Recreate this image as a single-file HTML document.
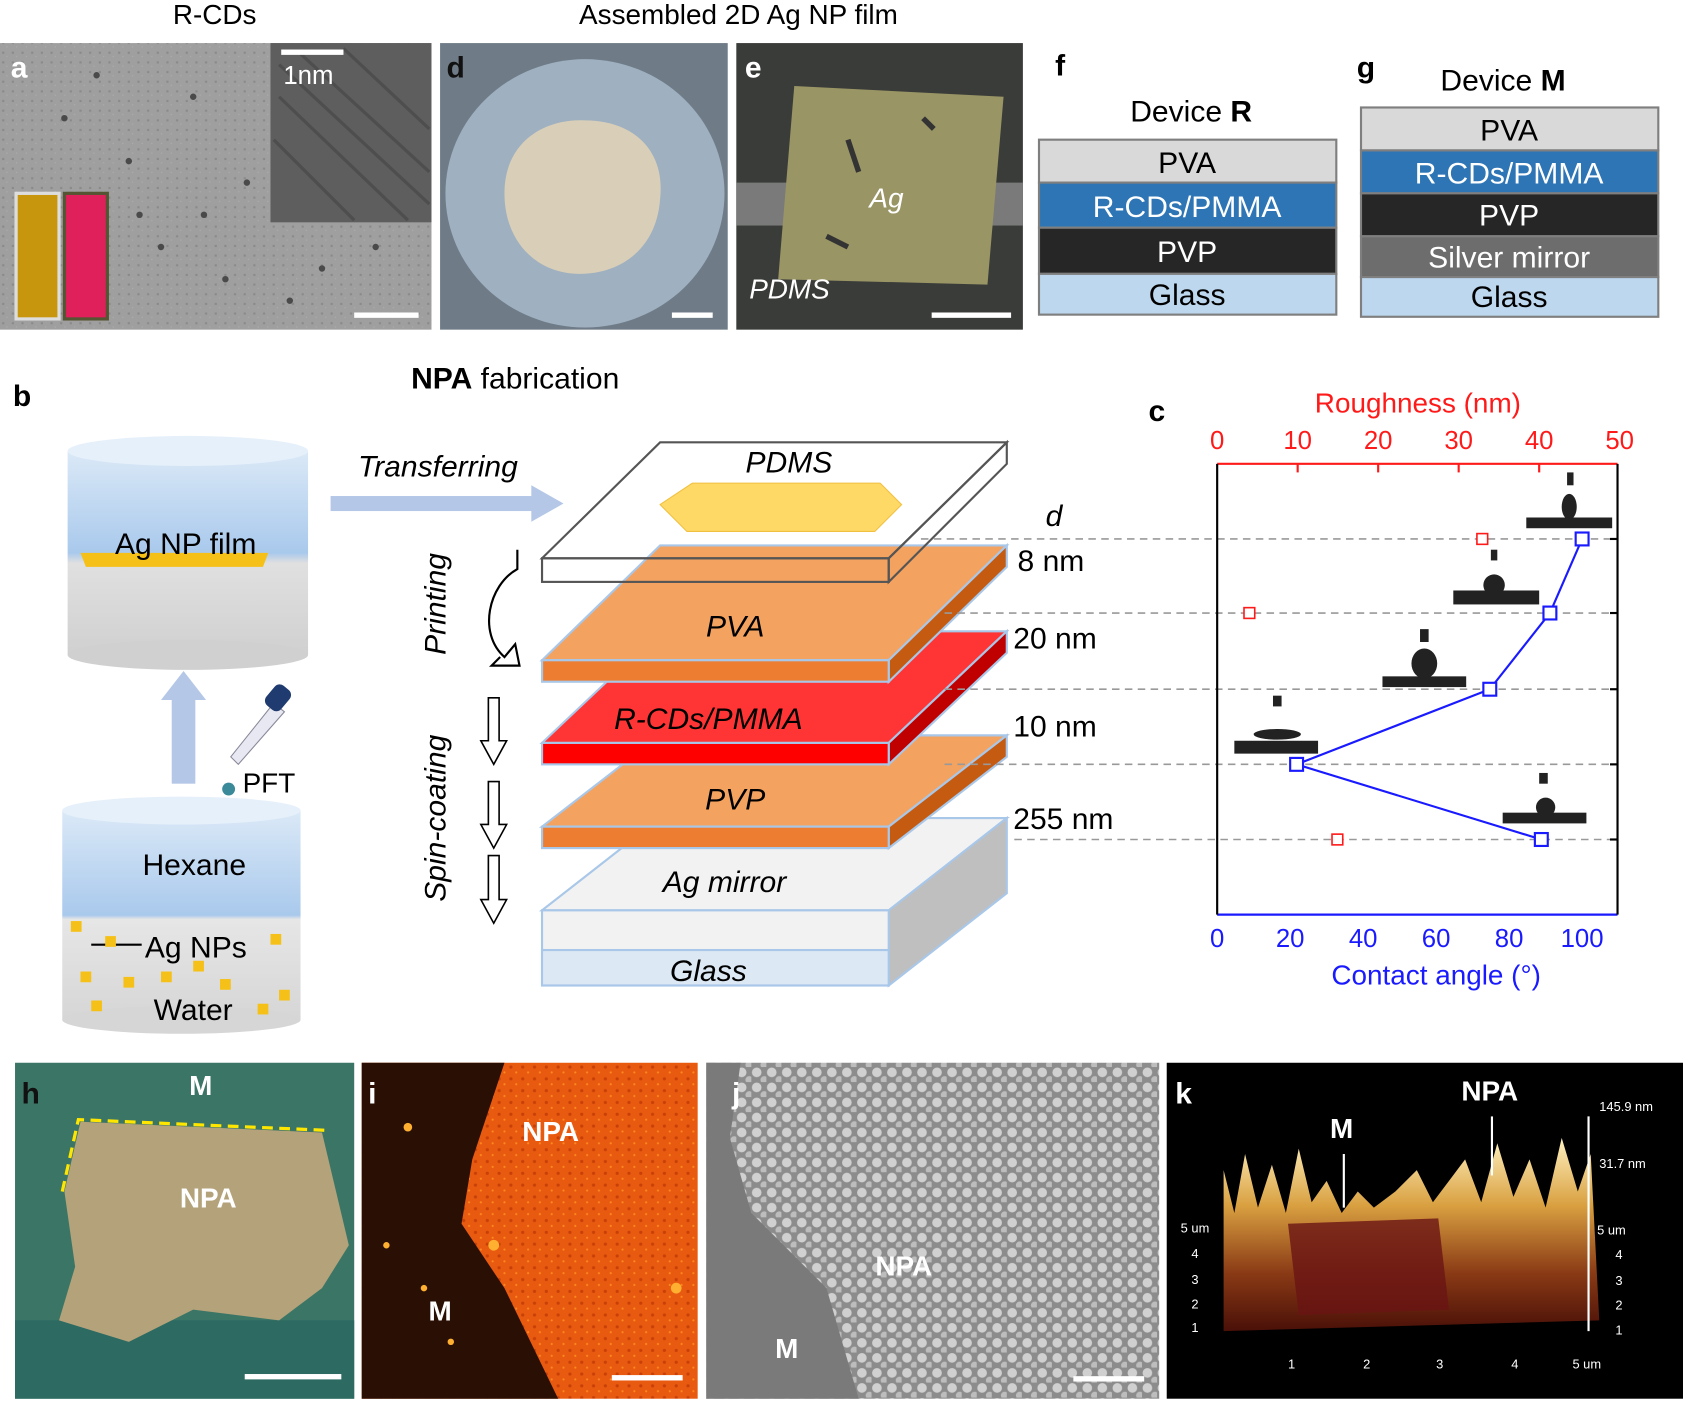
<!DOCTYPE html>
<html><head><meta charset="utf-8"><style>
html,body{margin:0;padding:0;background:#fff}
svg{display:block}
text{font-family:"Liberation Sans",Arial,sans-serif}
</style></head><body>
<svg width="1683" height="1401" viewBox="0 0 1568 1305" xmlns="http://www.w3.org/2000/svg">
<defs>
<linearGradient id="cyl" x1="0" y1="0" x2="0" y2="1"><stop offset="0" stop-color="#dbe9f7"/><stop offset="0.5" stop-color="#a9c9ec"/><stop offset="0.55" stop-color="#e0e0e0"/><stop offset="1" stop-color="#d0d0d0"/></linearGradient>
<linearGradient id="cyl2" x1="0" y1="0" x2="0" y2="1"><stop offset="0" stop-color="#dbe9f7"/><stop offset="0.5" stop-color="#a9c9ec"/><stop offset="0.52" stop-color="#e6e6e6"/><stop offset="1" stop-color="#d6d6d6"/></linearGradient>
<linearGradient id="afm" x1="0" y1="0" x2="0" y2="1"><stop offset="0" stop-color="#fff2c0"/><stop offset="0.35" stop-color="#d9a040"/><stop offset="0.7" stop-color="#8a3a15"/><stop offset="1" stop-color="#4a1008"/></linearGradient>
<pattern id="np" width="14" height="14" patternUnits="userSpaceOnUse"><rect width="14" height="14" fill="#8c8c8c"/><circle cx="5" cy="5" r="4.5" fill="#d0d0d0"/><circle cx="12" cy="12" r="3.5" fill="#bdbdbd"/></pattern>
<pattern id="grain" width="9" height="9" patternUnits="userSpaceOnUse"><rect width="9" height="9" fill="#9f9f9f"/><rect x="2" y="3" width="2" height="2" fill="#8a8a8a"/><rect x="6" y="7" width="1" height="1" fill="#b0b0b0"/></pattern>
<pattern id="og" width="11" height="11" patternUnits="userSpaceOnUse"><rect width="11" height="11" fill="#e85a10"/><circle cx="3" cy="4" r="1.5" fill="#c84008"/><circle cx="8" cy="9" r="1" fill="#ff8a20"/></pattern>
</defs>
<text x="200" y="22" font-size="26" text-anchor="middle">R-CDs</text>
<text x="688" y="22" font-size="26" text-anchor="middle">Assembled 2D Ag NP film</text>

<!-- a -->
<rect x="0" y="40" width="402" height="267" fill="url(#grain)"/>
<rect x="252" y="40" width="150" height="167" fill="#5e5e5e"/>
<g stroke="#444" stroke-width="3" opacity="0.6"><line x1="260" y1="60" x2="400" y2="190"/><line x1="260" y1="90" x2="380" y2="205"/><line x1="280" y1="50" x2="400" y2="160"/><line x1="255" y1="130" x2="330" y2="205"/><line x1="320" y1="45" x2="400" y2="120"/></g>
<g fill="#4a4a4a"><circle cx="60" cy="110" r="3"/><circle cx="120" cy="150" r="3"/><circle cx="180" cy="90" r="3"/><circle cx="230" cy="170" r="3"/><circle cx="150" cy="230" r="3"/><circle cx="210" cy="260" r="3"/><circle cx="300" cy="250" r="3"/><circle cx="350" cy="230" r="3"/><circle cx="90" cy="70" r="3"/><circle cx="130" cy="200" r="3"/><circle cx="270" cy="280" r="3"/><circle cx="190" cy="200" r="3"/></g>
<rect x="262" y="46" width="58" height="5" fill="#fff"/>
<text x="264" y="78" font-size="24" fill="#fff">1nm</text>
<rect x="15" y="180" width="40" height="117" fill="#c8960c" stroke="#ddd" stroke-width="3"/>
<rect x="60" y="180" width="40" height="117" fill="#e0205a" stroke="#553" stroke-width="3"/>
<rect x="330" y="291" width="60" height="5" fill="#fff"/>
<text x="10" y="72" font-size="28" font-weight="bold" fill="#fff">a</text>

<!-- d -->
<rect x="410" y="40" width="268" height="267" fill="#6f7b87"/>
<ellipse cx="545" cy="180" rx="130" ry="125" fill="#9fb0c0"/>
<path d="M470,180 C470,130 510,110 545,112 C590,112 620,140 615,185 C612,230 580,255 540,255 C500,255 470,225 470,180Z" fill="#d9cfb8"/>
<rect x="626" y="291" width="38" height="5" fill="#fff"/>
<text x="416" y="72" font-size="28" font-weight="bold" fill="#111">d</text>

<!-- e -->
<rect x="686" y="40" width="267" height="267" fill="#3a3c39"/>
<rect x="686" y="170" width="267" height="40" fill="#7a7a7a"/>
<polygon points="740,80 935,90 920,265 725,260" fill="#9a9565"/>
<path d="M790,130 L800,160 M770,220 L790,230 M860,110 L870,120" stroke="#333" stroke-width="5"/>
<text x="810" y="193" font-size="26" font-style="italic" fill="#fff">Ag</text>
<text x="698" y="278" font-size="26" font-style="italic" fill="#fff">PDMS</text>
<rect x="868" y="291" width="74" height="5" fill="#fff"/>
<text x="694" y="72" font-size="28" font-weight="bold" fill="#fff">e</text>

<!-- f -->
<text x="983" y="70" font-size="28" font-weight="bold">f</text>
<text x="1053" y="113" font-size="28">Device <tspan font-weight="bold">R</tspan></text>
<g stroke="#7f7f7f" stroke-width="2">
<rect x="968" y="130" width="277" height="40" fill="#d9d9d9"/>
<rect x="968" y="170" width="277" height="42" fill="#2e75b6"/>
<rect x="968" y="212" width="277" height="43" fill="#262626"/>
<rect x="968" y="255" width="277" height="38" fill="#bdd7ee"/></g>
<g font-size="28" text-anchor="middle"><text x="1106" y="161">PVA</text><text x="1106" y="202" fill="#fff">R-CDs/PMMA</text><text x="1106" y="244" fill="#fff">PVP</text><text x="1106" y="284">Glass</text></g>

<!-- g -->
<text x="1264" y="72" font-size="28" font-weight="bold">g</text>
<text x="1342" y="84" font-size="28">Device <tspan font-weight="bold">M</tspan></text>
<g stroke="#7f7f7f" stroke-width="2">
<rect x="1268" y="100" width="277" height="40" fill="#d9d9d9"/>
<rect x="1268" y="140" width="277" height="40" fill="#2e75b6"/>
<rect x="1268" y="180" width="277" height="40" fill="#262626"/>
<rect x="1268" y="220" width="277" height="38" fill="#6d6d6d"/>
<rect x="1268" y="258" width="277" height="37" fill="#bdd7ee"/></g>
<g font-size="28" text-anchor="middle"><text x="1406" y="131">PVA</text><text x="1406" y="171" fill="#fff">R-CDs/PMMA</text><text x="1406" y="210" fill="#fff">PVP</text><text x="1406" y="249" fill="#fff">Silver mirror</text><text x="1406" y="286">Glass</text></g>

<!-- b -->
<text x="12" y="378" font-size="28" font-weight="bold">b</text>
<text x="383" y="362" font-size="28"><tspan font-weight="bold">NPA</tspan> fabrication</text>
<rect x="63" y="420" width="224" height="190" fill="url(#cyl)"/>
<ellipse cx="175" cy="420" rx="112" ry="14" fill="#e6f0fa"/>
<ellipse cx="175" cy="610" rx="112" ry="14" fill="#d0d0d0"/>
<polygon points="75,515 250,515 245,528 80,528" fill="#f5c118"/>
<text x="173" y="516" font-size="28" text-anchor="middle">Ag NP film</text>
<rect x="160" y="650" width="22" height="80" fill="#b4c7e7"/><polygon points="150,652 192,652 171,625" fill="#b4c7e7"/>
<polygon points="215,705 255,655 265,663 222,712" fill="#e8e8f2" stroke="#889"/>
<rect x="250" y="638" width="18" height="24" rx="6" fill="#1f3b70" transform="rotate(40 259 650)"/>
<circle cx="213" cy="735" r="6" fill="#3a8a9a"/>
<text x="226" y="738" font-size="26">PFT</text>
<rect x="58" y="755" width="222" height="195" fill="url(#cyl2)"/>
<ellipse cx="169" cy="755" rx="111" ry="13" fill="#e6f0fa"/>
<ellipse cx="169" cy="950" rx="111" ry="13" fill="#d6d6d6"/>
<text x="181" y="815" font-size="28" text-anchor="middle">Hexane</text>
<text x="135" y="892" font-size="28">Ag NPs</text>
<line x1="85" y1="880" x2="132" y2="880" stroke="#000" stroke-width="2"/>
<text x="180" y="950" font-size="28" text-anchor="middle">Water</text>
<g fill="#f5c118"><rect x="66" y="858" width="10" height="10"/><rect x="98" y="872" width="10" height="10"/><rect x="75" y="905" width="10" height="10"/><rect x="252" y="870" width="10" height="10"/><rect x="260" y="922" width="10" height="10"/><rect x="205" y="912" width="10" height="10"/><rect x="150" y="905" width="10" height="10"/><rect x="115" y="910" width="10" height="10"/><rect x="240" y="935" width="10" height="10"/><rect x="85" y="932" width="10" height="10"/><rect x="180" y="895" width="10" height="10"/></g>
<rect x="308" y="462" width="190" height="14" fill="#b4c7e7"/><polygon points="495,452 525,469 495,486" fill="#b4c7e7"/>
<text x="408" y="444" font-size="28" font-style="italic" text-anchor="middle">Transferring</text>
<text transform="translate(415,610) rotate(-90)" font-size="28" font-style="italic">Printing</text>
<text transform="translate(415,840) rotate(-90)" font-size="28" font-style="italic">Spin-coating</text>
<path d="M482,512 L482,530 C455,545 445,590 470,612 L480,600 L484,620 L458,620 L466,612" fill="none" stroke="#000" stroke-width="2"/>
<g fill="#fff" stroke="#000" stroke-width="1.5"><polygon points="455,650 465,650 465,690 472,690 460,712 448,690 455,690"/><polygon points="455,728 465,728 465,768 472,768 460,790 448,768 455,768"/><polygon points="455,797 465,797 465,838 472,838 460,860 448,838 455,838"/></g>

<!-- stack -->
<g stroke="#a9c7e8" stroke-width="2">
<polygon points="505,848 828,848 938,762 615,762" fill="#f2f2f2"/>
<polygon points="828,848 938,762 938,832 828,918" fill="#bfbfbf"/>
<rect x="505" y="848" width="323" height="70" fill="#f2f2f2"/>
<rect x="505" y="885" width="323" height="33" fill="#dce9f5"/>
<polygon points="505,770 828,770 938,685 615,685" fill="#f4a260"/>
<polygon points="828,770 938,685 938,705 828,790" fill="#c55a11"/>
<rect x="505" y="770" width="323" height="20" fill="#ed7d31"/>
<polygon points="505,692 828,692 938,588 615,588" fill="#ff3535"/>
<polygon points="828,692 938,588 938,608 828,712" fill="#c00000"/>
<rect x="505" y="692" width="323" height="20" fill="#ff0000"/>
<polygon points="505,615 828,615 938,508 615,508" fill="#f4a260"/>
<polygon points="828,615 938,508 938,528 828,635" fill="#c55a11"/>
<rect x="505" y="615" width="323" height="20" fill="#ed7d31"/>
</g>
<g stroke="#555" stroke-width="2" fill="none">
<polygon points="505,520 828,520 938,412 615,412"/><polygon points="828,520 938,412 938,432 828,542"/><rect x="505" y="520" width="323" height="22"/></g>
<polygon points="615,470 645,450 820,450 840,470 815,495 640,495" fill="#ffd966" stroke="#f0c040"/>
<g font-size="28" font-style="italic" text-anchor="middle"><text x="735" y="440">PDMS</text><text x="685" y="593">PVA</text><text x="660" y="679">R-CDs/PMMA</text><text x="685" y="754">PVP</text><text x="675" y="831">Ag mirror</text><text x="660" y="914">Glass</text><text x="982" y="490">d</text></g>
<g font-size="28"><text x="948" y="532">8 nm</text><text x="944" y="604">20 nm</text><text x="944" y="686">10 nm</text><text x="944" y="772">255 nm</text></g>
<g stroke="#999" stroke-width="1.5" stroke-dasharray="7,5"><line x1="858" y1="502" x2="1505" y2="502"/><line x1="880" y1="571" x2="1505" y2="571"/><line x1="880" y1="642" x2="1505" y2="642"/><line x1="880" y1="712" x2="1505" y2="712"/><line x1="945" y1="782" x2="1505" y2="782"/></g>

<!-- c -->
<text x="1070" y="392" font-size="28" font-weight="bold">c</text>
<text x="1321" y="384" font-size="26" fill="#ff1a1a" text-anchor="middle">Roughness (nm)</text>
<g font-size="24" fill="#ff1a1a" text-anchor="middle"><text x="1134" y="418">0</text><text x="1209" y="418">10</text><text x="1284" y="418">20</text><text x="1359" y="418">30</text><text x="1434" y="418">40</text><text x="1509" y="418">50</text></g>
<line x1="1134" y1="432" x2="1507" y2="432" stroke="#ff1a1a" stroke-width="2"/>
<g stroke="#ff1a1a" stroke-width="2"><line x1="1209" y1="432" x2="1209" y2="440"/><line x1="1284" y1="432" x2="1284" y2="440"/><line x1="1359" y1="432" x2="1359" y2="440"/><line x1="1434" y1="432" x2="1434" y2="440"/></g>
<line x1="1134" y1="852" x2="1507" y2="852" stroke="#1a1aff" stroke-width="2"/>
<line x1="1134" y1="432" x2="1134" y2="852" stroke="#000" stroke-width="2"/>
<line x1="1507" y1="432" x2="1507" y2="852" stroke="#000" stroke-width="2"/>
<g stroke="#000" stroke-width="2"><line x1="1500" y1="502" x2="1507" y2="502"/><line x1="1500" y1="571" x2="1507" y2="571"/><line x1="1500" y1="642" x2="1507" y2="642"/><line x1="1500" y1="712" x2="1507" y2="712"/><line x1="1500" y1="782" x2="1507" y2="782"/></g>
<g font-size="24" fill="#1a1aff" text-anchor="middle"><text x="1134" y="882">0</text><text x="1202" y="882">20</text><text x="1270" y="882">40</text><text x="1338" y="882">60</text><text x="1406" y="882">80</text><text x="1474" y="882">100</text></g>
<text x="1338" y="917" font-size="26" fill="#1a1aff" text-anchor="middle">Contact angle (°)</text>
<polyline points="1474,502 1444,571 1388,642 1208,712 1436,782" fill="none" stroke="#1a1aff" stroke-width="2"/>
<g fill="#fff" stroke="#1a1aff" stroke-width="2"><rect x="1468" y="496" width="12" height="12"/><rect x="1438" y="565" width="12" height="12"/><rect x="1382" y="636" width="12" height="12"/><rect x="1202" y="706" width="12" height="12"/><rect x="1430" y="776" width="12" height="12"/></g>
<g fill="#fff" stroke="#ff1a1a" stroke-width="1.5"><rect x="1376" y="497" width="10" height="10"/><rect x="1159" y="566" width="10" height="10"/><rect x="1241" y="777" width="10" height="10"/></g>
<g fill="#222"><rect x="1422" y="482" width="80" height="10"/><ellipse cx="1462" cy="472" rx="7" ry="12"/><rect x="1460" y="440" width="6" height="12"/><rect x="1354" y="550" width="80" height="13"/><circle cx="1392" cy="545" r="10"/><rect x="1389" y="512" width="6" height="10"/><rect x="1288" y="630" width="78" height="10"/><ellipse cx="1327" cy="618" rx="12" ry="14"/><rect x="1323" y="586" width="8" height="12"/><rect x="1150" y="690" width="78" height="12"/><ellipse cx="1190" cy="684" rx="22" ry="5"/><rect x="1186" y="648" width="8" height="10"/><rect x="1400" y="757" width="78" height="10"/><circle cx="1440" cy="752" r="9"/><rect x="1434" y="720" width="8" height="10"/></g>

<!-- bottom -->
<rect x="14" y="990" width="316" height="313" fill="#3b7566"/>
<rect x="14" y="1230" width="316" height="73" fill="#2c6a62"/>
<path d="M60,1110 L75,1045 L300,1055 L325,1160 L300,1200 L260,1230 L180,1220 L120,1250 L55,1230 L70,1180Z" fill="#b3a27a"/>
<polyline points="58,1110 73,1043 305,1053" fill="none" stroke="#ffe600" stroke-width="3" stroke-dasharray="10,6"/>
<text x="187" y="1020" font-size="26" font-weight="bold" fill="#fff" text-anchor="middle">M</text>
<text x="194" y="1125" font-size="26" font-weight="bold" fill="#fff" text-anchor="middle">NPA</text>
<rect x="228" y="1280" width="90" height="5" fill="#fff"/>
<text x="20" y="1028" font-size="28" font-weight="bold" fill="#111">h</text>

<rect x="337" y="990" width="313" height="313" fill="url(#og)"/>
<polygon points="337,990 470,990 440,1080 430,1140 470,1200 520,1303 337,1303" fill="#2a0f05"/>
<g fill="#ffb030"><circle cx="380" cy="1050" r="4"/><circle cx="360" cy="1160" r="3"/><circle cx="420" cy="1250" r="3"/><circle cx="460" cy="1160" r="5"/><circle cx="630" cy="1200" r="5"/><circle cx="395" cy="1200" r="3"/></g>
<text x="513" y="1063" font-size="26" font-weight="bold" fill="#fff" text-anchor="middle">NPA</text>
<text x="410" y="1230" font-size="26" font-weight="bold" fill="#fff" text-anchor="middle">M</text>
<rect x="570" y="1281" width="66" height="5" fill="#fff"/>
<text x="343" y="1028" font-size="28" font-weight="bold" fill="#fff">i</text>

<rect x="658" y="990" width="422" height="313" fill="url(#np)"/>
<polygon points="658,990 690,990 680,1060 700,1130 770,1200 800,1303 658,1303" fill="#7a7a7a"/>
<text x="842" y="1188" font-size="26" font-weight="bold" fill="#fff" text-anchor="middle">NPA</text>
<text x="733" y="1265" font-size="26" font-weight="bold" fill="#fff" text-anchor="middle">M</text>
<rect x="1000" y="1282" width="66" height="5" fill="#fff"/>
<text x="682" y="1028" font-size="28" font-weight="bold" fill="#fff">j</text>

<rect x="1087" y="990" width="481" height="313" fill="#000"/>
<polygon points="1140,1240 1140,1090 1150,1130 1160,1075 1172,1125 1185,1085 1198,1130 1210,1070 1222,1120 1236,1100 1250,1130 1265,1110 1280,1125 1300,1110 1320,1090 1335,1120 1350,1100 1365,1080 1380,1120 1395,1065 1410,1115 1425,1080 1440,1125 1455,1060 1470,1110 1482,1075 1490,1230" fill="url(#afm)"/>
<polygon points="1200,1140 1340,1135 1350,1220 1210,1225" fill="#6a1414" opacity="0.8"/>
<g stroke="#fff" stroke-width="2"><line x1="1252" y1="1075" x2="1252" y2="1125"/><line x1="1390" y1="1040" x2="1390" y2="1095"/><line x1="1480" y1="1040" x2="1480" y2="1240"/></g>
<text x="1250" y="1060" font-size="26" font-weight="bold" fill="#fff" text-anchor="middle">M</text>
<text x="1388" y="1025" font-size="26" font-weight="bold" fill="#fff" text-anchor="middle">NPA</text>
<text x="1095" y="1028" font-size="28" font-weight="bold" fill="#fff">k</text>
<g font-size="12" fill="#fff" font-family="Liberation Mono"><text x="1490" y="1035">145.9 nm</text><text x="1490" y="1088">31.7 nm</text><text x="1488" y="1150">5 um</text><text x="1100" y="1148">5 um</text><text x="1200" y="1275">1</text><text x="1270" y="1275">2</text><text x="1338" y="1275">3</text><text x="1408" y="1275">4</text><text x="1465" y="1275">5 um</text><text x="1110" y="1172">4</text><text x="1110" y="1196">3</text><text x="1110" y="1219">2</text><text x="1110" y="1241">1</text><text x="1505" y="1173">4</text><text x="1505" y="1197">3</text><text x="1505" y="1220">2</text><text x="1505" y="1243">1</text></g>
</svg>
</body></html>
